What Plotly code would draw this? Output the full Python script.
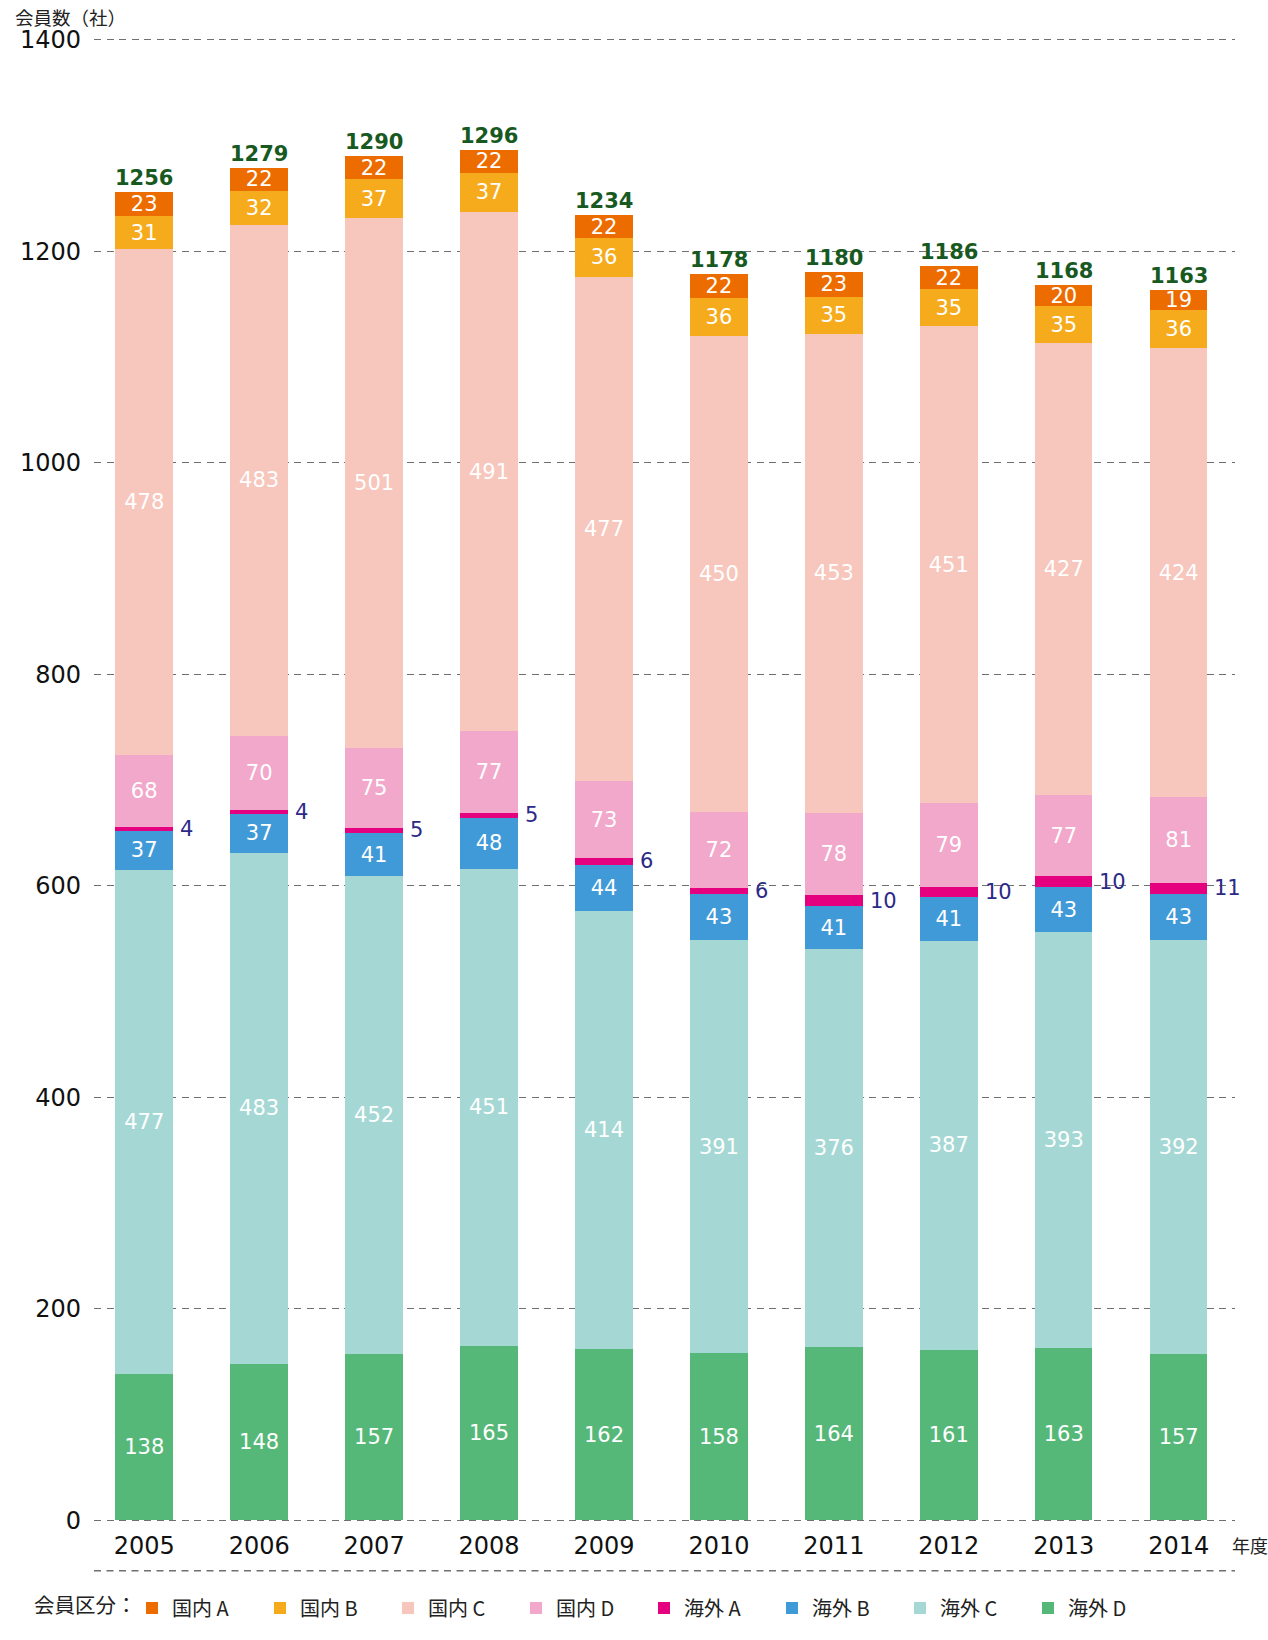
import plotly.graph_objects as go

years = [2005, 2006, 2007, 2008, 2009, 2010, 2011, 2012, 2013, 2014]
year_labels = [str(y) for y in years]

dom_a = [23, 22, 22, 22, 22, 22, 23, 22, 20, 19]
dom_b = [31, 32, 37, 37, 36, 36, 35, 35, 35, 36]
dom_c = [478, 483, 501, 491, 477, 450, 453, 451, 427, 424]
dom_d = [68, 70, 75, 77, 73, 72, 78, 79, 77, 81]
ovs_a = [4, 4, 5, 5, 6, 6, 10, 10, 10, 11]
ovs_b = [37, 37, 41, 48, 44, 43, 41, 41, 43, 43]
ovs_c = [477, 483, 452, 451, 414, 391, 376, 387, 393, 392]
ovs_d = [138, 148, 157, 165, 162, 158, 164, 161, 163, 157]
totals = [1256, 1279, 1290, 1296, 1234, 1178, 1180, 1186, 1168, 1163]

y_ticks = [0, 200, 400, 600, 800, 1000, 1200, 1400]

# bottom-up stacking order
series = [
    ("海外 D", ovs_d, "#56B878", True),
    ("海外 C", ovs_c, "#A5D8D4", True),
    ("海外 B", ovs_b, "#419AD8", True),
    ("海外 A", ovs_a, "#E5007F", False),
    ("国内 D", dom_d, "#F1A8CB", True),
    ("国内 C", dom_c, "#F7C6BC", True),
    ("国内 B", dom_b, "#F6AB1C", True),
    ("国内 A", dom_a, "#ED6C00", True),
]

NUM_FONT = "DejaVu Sans"
CJK_FONT = "Noto Sans CJK JP"
GRID = "#707070"
DASH = "7px,5.5px"
FIG_W, FIG_H = 1268, 1640

fig = go.Figure()
for name, vals, color, show_text in series:
    fig.add_trace(go.Bar(
        x=years, y=vals, name=name,
        marker=dict(color=color, line=dict(width=0)),
        width=0.5,
        text=[str(v) for v in vals] if show_text else None,
        textposition="inside" if show_text else "none",
        insidetextanchor="middle",
        textangle=0,
        textfont=dict(family=NUM_FONT, size=21, color="white"),
        hoverinfo="skip",
    ))

annotations = []
# totals above bars
for x, t in zip(years, totals):
    annotations.append(dict(
        x=x, y=t, xref="x", yref="y", text=f"<b>{t}</b>", showarrow=False,
        yanchor="bottom", xanchor="center",
        font=dict(family=NUM_FONT, size=21, color="#17591F"),
    ))
# overseas A labels next to thin segments
for i, x in enumerate(years):
    base = ovs_d[i] + ovs_c[i] + ovs_b[i]
    mid = base + ovs_a[i] / 2
    annotations.append(dict(
        x=x + 0.25, y=mid, xref="x", yref="y", text=str(ovs_a[i]), showarrow=False,
        xanchor="left", yanchor="middle", xshift=5,
        font=dict(family=NUM_FONT, size=21, color="#2B2A87"),
    ))
# axis titles
annotations.append(dict(
    x=-0.071, y=1.0142, xref="paper", yref="paper", text="会員数（社）",
    showarrow=False, xanchor="left", yanchor="middle",
    font=dict(family=CJK_FONT, size=18.5, color="#222222"),
))
annotations.append(dict(
    x=1, y=-0.0155, xref="paper", yref="paper", text="年度",
    showarrow=False, xanchor="left", yanchor="middle", xshift=-5,
    font=dict(family=CJK_FONT, size=18, color="#222222"),
))
# legend caption
annotations.append(dict(
    x=-0.0543, y=-0.0554, xref="paper", yref="paper", text="会員区分：",
    showarrow=False, xanchor="left", yanchor="middle",
    font=dict(family=CJK_FONT, size=20.5, color="#222222"),
))

fig.update_layout(
    width=FIG_W, height=FIG_H, autosize=False,
    margin=dict(l=94, r=33, t=38, b=96, pad=0),
    barmode="stack",
    plot_bgcolor="white", paper_bgcolor="white",
    font=dict(family=CJK_FONT, color="#222222"),
    showlegend=True,
    legend=dict(
        orientation="h", traceorder="reversed",
        x=0.0333, xanchor="left", y=-0.0448, yanchor="top",
        font=dict(family=CJK_FONT, size=20, color="#222222"),
        itemwidth=30, entrywidth=83, itemclick=False,
    ),
    uniformtext=dict(mode="show", minsize=21),
    annotations=annotations,
    shapes=[dict(
        type="line", xref="paper", yref="paper", x0=0, x1=1, y0=-0.0328, y1=-0.0328,
        line=dict(color=GRID, width=1.4, dash=DASH),
    )],
)

fig.update_xaxes(
    range=[2005 - 0.437, 2014 + 0.49],
    tickmode="array", tickvals=years, ticktext=year_labels,
    showgrid=False, zeroline=False, showline=False, ticks="",
    ticklabelstandoff=7,
    tickfont=dict(family=NUM_FONT, size=24, color="#111111"),
)
fig.update_yaxes(
    range=[-1.5, 1401.5],
    tickmode="array", tickvals=y_ticks, ticktext=[str(v) for v in y_ticks],
    showgrid=True, gridcolor=GRID, gridwidth=1.4, griddash=DASH,
    zeroline=False, showline=False, ticks="",
    ticklabelstandoff=12,
    tickfont=dict(family=NUM_FONT, size=24, color="#111111"),
)

page_fix = (
    f"document.documentElement.style.cssText='margin:0;padding:0;overflow:hidden;height:{FIG_H}px;width:{FIG_W}px';"
    f"document.body.style.cssText='margin:0;padding:0;overflow:hidden;height:{FIG_H}px;width:{FIG_W}px';"
)

fig.write_html(
    "out.html",
    config={"displayModeBar": False},
    post_script=page_fix,
)
